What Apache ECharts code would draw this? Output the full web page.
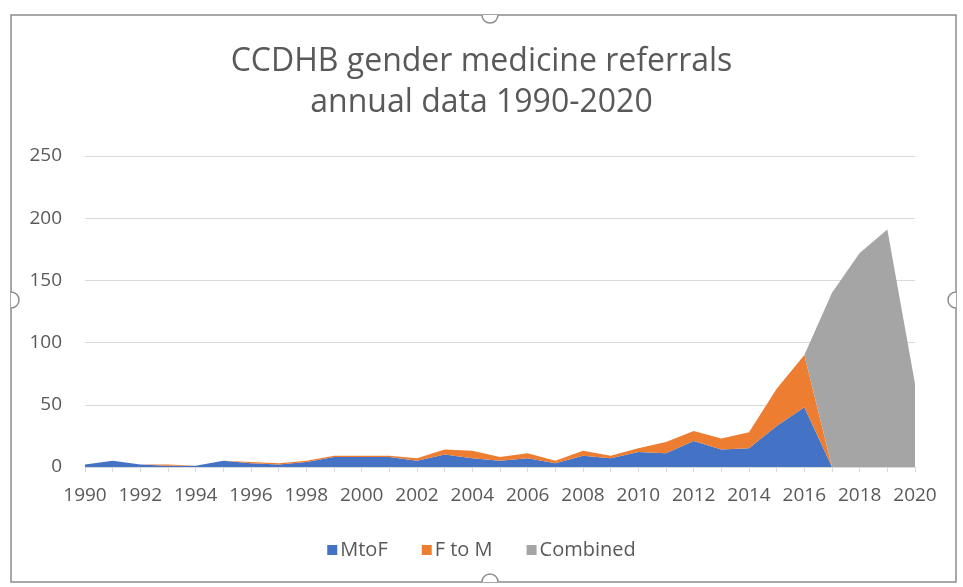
<!DOCTYPE html>
<html>
<head>
<meta charset="utf-8">
<title>CCDHB gender medicine referrals</title>
<script src="https://cdn.jsdelivr.net/npm/echarts@6/dist/echarts.min.js"></script>
<style>
  html, body { margin: 0; padding: 0; background: #fff; }
  #chart { width: 963px; height: 587px; }
</style>
</head>
<body>
<div id="chart"></div>
<script>
// years on the x axis
const years = []
for (let y = 1990; y <= 2020; y++) years.push(String(y))

// referrals per year
const mtoF = [2, 5, 2, 1, 1, 5, 3, 2, 4, 8, 8, 8, 5, 10, 7, 5, 7, 3, 9, 7, 12, 11, 21, 14, 15, 33, 48, 0, 0, 0, 0]
const fToM = [0, 0, 0, 1, 0, 0, 1, 1, 1, 1, 1, 1, 2, 4, 6, 3, 4, 2, 4, 2, 3, 9, 8, 9, 13, 30, 42, 0, 0, 0, 0]
// combined only reported from 2017 on (2016 = 0 so the area starts on top of the stack)
const combined = [null, null, null, null, null, null, null, null, null, null, null, null, null, null, null, null,
  null, null, null, null, null, null, null, null, null, null, 0, 140, 172, 191, 67]

const seriesNames = ['MtoF', 'F to M', 'Combined']
const colors = ['#4472C4', '#ED7D31', '#A5A5A5']

const chart = echarts.init(document.getElementById('chart'))
const font = '"Open Sans", Lato, sans-serif'
const border = '#8c8c8c'

function areaSeries (name, data, color) {
  return {
    name: name,
    type: 'line',
    stack: 'total',
    data: data,
    symbol: 'none',
    color: color,
    lineStyle: { width: 0 },
    areaStyle: { color: color, opacity: 1 },
    emphasis: { disabled: true }
  }
}

chart.setOption({
  animation: false,
  backgroundColor: '#fff',
  textStyle: { fontFamily: font },
  title: {
    text: 'CCDHB gender medicine referrals\nannual data 1990-2020',
    left: 'center',
    top: 36,
    textStyle: {
      fontFamily: font,
      fontSize: 32,
      fontWeight: 'normal',
      color: '#595959',
      lineHeight: 41
    }
  },
  legend: {
    data: seriesNames,
    bottom: 22,
    left: 'center',
    itemWidth: 10,
    itemHeight: 10,
    itemGap: 34,
    icon: 'rect',
    textStyle: { fontFamily: font, fontSize: 20, color: '#595959', padding: [0, 0, 0, -2] }
  },
  grid: { left: 85, right: 48, top: 156, bottom: 120 },
  xAxis: {
    type: 'category',
    data: years,
    boundaryGap: false,
    axisLine: { lineStyle: { color: '#D9D9D9' } },
    axisTick: { show: true, interval: 0, length: 5, lineStyle: { color: '#D9D9D9' } },
    axisLabel: { interval: 1, color: '#595959', fontSize: 19, margin: 19 },
    splitLine: { show: false }
  },
  yAxis: {
    type: 'value',
    min: 0,
    max: 250,
    interval: 50,
    axisLine: { show: false },
    axisTick: { show: false },
    axisLabel: { color: '#595959', fontSize: 19, margin: 23 },
    splitLine: { lineStyle: { color: '#D9D9D9' } }
  },
  series: [
    areaSeries(seriesNames[0], mtoF, colors[0]),
    areaSeries(seriesNames[1], fToM, colors[1]),
    areaSeries(seriesNames[2], combined, colors[2])
  ],
  // selection frame around the chart object
  graphic: [
    { type: 'rect', shape: { x: 11, y: 15, width: 945, height: 567 }, style: { fill: null, stroke: border, lineWidth: 1.5 }, silent: true },
    { type: 'arc', shape: { cx: 490, cy: 15, r: 8, startAngle: 0, endAngle: Math.PI }, style: { fill: '#fff', stroke: border, lineWidth: 1.5 }, silent: true },
    { type: 'arc', shape: { cx: 490, cy: 582, r: 8, startAngle: Math.PI, endAngle: Math.PI * 2 }, style: { fill: '#fff', stroke: border, lineWidth: 1.5 }, silent: true },
    { type: 'arc', shape: { cx: 11, cy: 300, r: 8, startAngle: -Math.PI / 2, endAngle: Math.PI / 2 }, style: { fill: '#fff', stroke: border, lineWidth: 1.5 }, silent: true },
    { type: 'arc', shape: { cx: 956, cy: 300, r: 8, startAngle: Math.PI / 2, endAngle: Math.PI * 1.5 }, style: { fill: '#fff', stroke: border, lineWidth: 1.5 }, silent: true }
  ]
})
</script>
</body>
</html>
